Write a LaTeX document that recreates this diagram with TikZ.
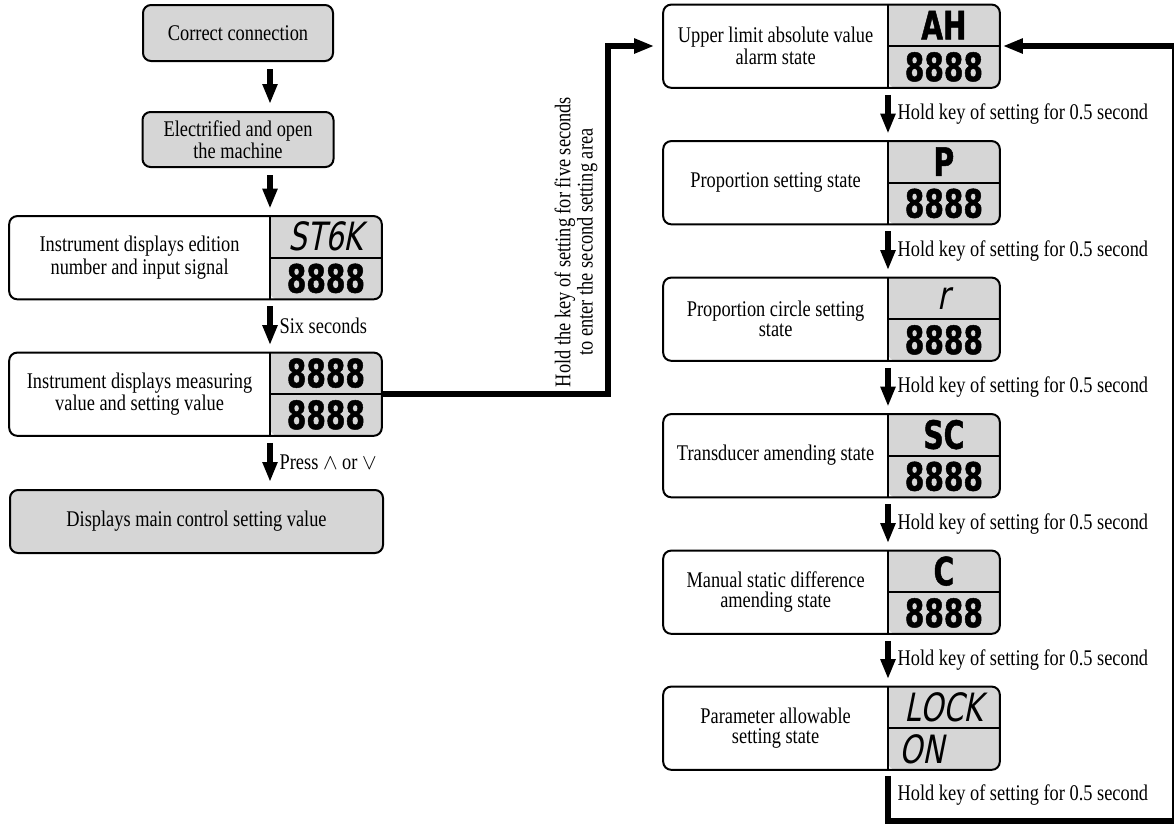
\documentclass[tikz,border=0pt]{standalone}
\usepackage{fontspec}
\setmainfont{Liberation Serif}[FakeStretch=0.82]
\newfontfamily\lcdfont{DejaVu Sans}[FakeStretch=0.72, BoldFeatures={FakeBold=1.2}]
\newfontfamily\lcdslant{DejaVu Sans}[FakeStretch=0.75,FakeSlant=0.2]
\usetikzlibrary{arrows.meta, positioning, backgrounds}

\definecolor{lcdgray}{RGB}{214,214,214}
\newcommand{\thinseg}{\lcdslant\mdseries}

\tikzset{
  flowbox/.style={draw, line width=1pt, rounded corners=4pt, fill=lcdgray, align=center, inner sep=2pt},
  textpart/.style={minimum height=41pt, inner sep=0pt, align=center},
  lcdpart/.style={minimum height=20.5pt, minimum width=55.5pt, inner sep=0pt,
    font=\lcdfont\bfseries\fontsize{19.5}{19.5}\selectfont},
  stepflow/.style={line width=3pt, -{Triangle[length=10pt,width=7pt]}, shorten <=3.5pt, shorten >=3.5pt},
  route/.style={line width=3pt},
}

% state box: name, divider point, width of text part, text, upper reading, lower reading
\newcommand{\statebox}[6]{%
  \node[textpart, minimum width=#3, anchor=east] (#1) at (#2) {#4};
  \node[lcdpart, anchor=south west] (#1top) at (#2) {#5};
  \node[lcdpart, anchor=north west] (#1bot) at (#2) {#6};
  \begin{pgfonlayer}{background}
    \fill[lcdgray] (#1top.north west) [rounded corners=4pt] -- (#1top.north east)
      -- (#1bot.south east) -- (#1bot.south west) [sharp corners] -- cycle;
  \end{pgfonlayer}
  \draw[line width=1pt, rounded corners=4pt] (#1.north west) rectangle (#1bot.south east);
  \draw[line width=1pt] (#1top.north west) -- (#1bot.south west) (#1top.south west) -- (#1top.south east);
}

\begin{document}
\begin{tikzpicture}[x=0.5pt, y=-0.5pt, font=\fontsize{11.2}{9.8}\selectfont]
  \useasboundingbox (0,0) rectangle (1174,827);

  % first setting area
  \node[flowbox, minimum width=95pt, minimum height=28pt] (conn) at (238,33) {Correct connection};
  \node[flowbox, minimum width=95.5pt, minimum height=27.5pt] (power) at (238,139.5) {Electrified and open\\the machine};
  \statebox{ver}{270,257.5}{130pt}{Instrument displays edition\\number and input signal}{\thinseg ST6K}{8888}
  \statebox{meas}{270,394}{130pt}{Instrument displays measuring\\value and setting value}{8888}{8888}
  \node[flowbox, minimum width=186.5pt, minimum height=31.5pt] (mainset) at (196.5,521.5) {Displays main control setting value};

  \draw[stepflow] (conn.south -| vertop.west) -- (power.north -| vertop.west);
  \draw[stepflow] (power.south -| vertop.west) -- (vertop.north west);
  \draw[stepflow] (verbot.south west) -- node[right] {Six seconds} (meastop.north west);
  \draw[stepflow] (measbot.south west) -- node[right] {Press $\wedge$ or $\vee$} (mainset.north -| measbot.west);

  % second setting area
  \statebox{ah}{888,46}{112pt}{Upper limit absolute value\\alarm state}{AH}{8888}
  \statebox{prop}{888,182.5}{112pt}{Proportion setting state}{P}{8888}
  \statebox{cyc}{888,319}{112pt}{Proportion circle setting\\state}{\thinseg r}{8888}
  \statebox{sens}{888,455.5}{112pt}{Transducer amending state}{SC}{8888}
  \statebox{man}{888,592}{112pt}{Manual static difference\\amending state}{C}{8888}
  \statebox{lock}{888,728}{112pt}{Parameter allowable\\setting state}{\thinseg LOCK}{\thinseg ON\hphantom{ON}}

  \foreach \a/\b in {ah/prop, prop/cyc, cyc/sens, sens/man, man/lock}
    \draw[stepflow] (\a bot.south west) -- node[right] {Hold key of setting for 0.5 second} (\b top.north west);

  \node[rotate=90, align=center] (holdnote) at (576,242) {Hold the key of setting for five seconds\\to enter the second setting area};
  \draw[route, -{Triangle[length=10pt,width=7pt]}, shorten >=4.5pt] (meastop.south east) -- ++(226,0) |- (ah.west);

  \coordinate (loopend) at (1175,821);
  \draw[route, -{Triangle[length=10pt,width=7pt]}, shorten <=3pt, shorten >=1.5pt]
    (lockbot.south west) |- node[pos=0.25, right] {Hold key of setting for 0.5 second} (loopend) |- (ahtop.south east);
\end{tikzpicture}
\end{document}
